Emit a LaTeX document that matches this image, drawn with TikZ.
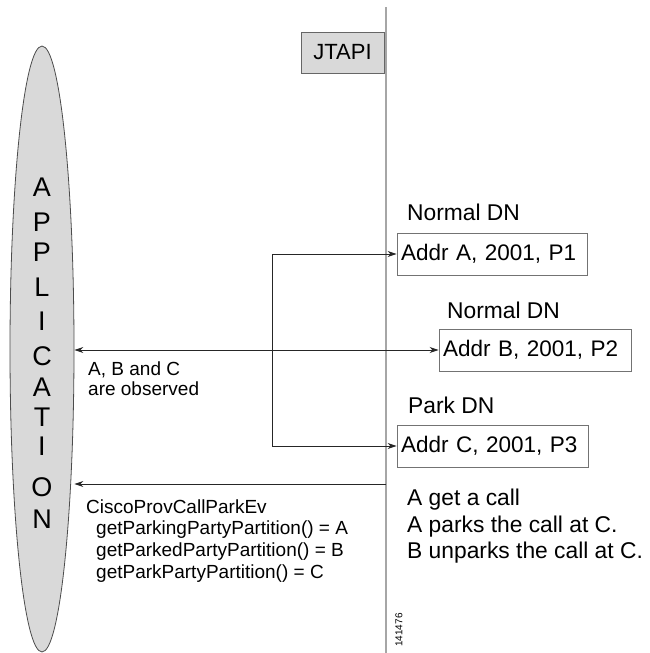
\documentclass[tikz,border=0pt]{standalone}
\usepackage{fontspec}
\setmainfont{Liberation Sans}
\usetikzlibrary{arrows.meta,shapes.geometric}
\begin{document}
\begin{tikzpicture}[x=1pt,y=-1pt,
  conn/.style={draw=black!85,line width=0.9pt},
  arr/.style={conn,-{Stealth[length=9pt,width=6pt]}},
  dblarr/.style={conn,{Stealth[length=9pt,width=6pt]}-{Stealth[length=9pt,width=6pt]}},
  addrbox/.style={draw=black!55,line width=0.9pt,fill=white,inner sep=0pt,minimum height=42pt,
     font=\fontsize{22.5}{26}\selectfont,align=left},
  lbl/.style={anchor=base west,inner sep=0pt,font=\fontsize{22.8}{26}\selectfont},
  small/.style={anchor=base west,inner sep=0pt,font=\fontsize{19}{22}\selectfont},
  letter/.style={inner sep=0pt,font=\fontsize{27}{30}\selectfont}]
\useasboundingbox (0,0) rectangle (649,653);
% JTAPI lifeline
\coordinate (ltop) at (386,7);
\coordinate (lbot) at (386,653);
\draw[draw=black!35,line width=1.6pt] (ltop) -- (lbot);
% JTAPI box
\node[draw=black!60,line width=1pt,fill=black!15,minimum width=83pt,minimum height=41pt,
  inner sep=0pt,font=\fontsize{22}{26}\selectfont] (jtapi) at (342.5,52.5) {JTAPI};
% application ellipse
\node[ellipse,draw=black!70,line width=0.8pt,fill=black!15,minimum width=64pt,minimum height=606pt,
  inner sep=0pt] (app) at (42,349) {};
\foreach \ch/\yy [count=\i] in {A/187,P/222,P/252,L/287,I/321,C/356,A/387,T/417,I/446,O/487,N/519}
  \node[letter] (ch\i) at (42,\yy) {\ch};
% address boxes
\node[addrbox,minimum width=190pt,text width=182pt] (A) at (492,254) {Addr A, 2001, P1};
\node[addrbox,minimum width=192pt,text width=184pt] (B) at (535,350) {Addr B, 2001, P2};
\node[addrbox,minimum width=191pt,text width=183pt] (C) at (492.5,446) {Addr C, 2001, P3};
\node[lbl] (nA) at (407,220) {Normal DN};
\node[lbl] (nB) at (447,318) {Normal DN};
\node[lbl] (nC) at (408,413) {Park DN};
% connectors
\coordinate (fork) at (272,350);
\draw[arr] (fork |- A.west) -- (A.west);
\draw[arr] (fork |- A.west) -- (fork |- C.west) -- (C.west);
\draw[dblarr] (app.east |- B.west) -- (B.west);
\coordinate (evstart) at (386,484);
\draw[arr] (evstart) -- (evstart -| app.east);
% left texts
\node[small] (obs1) at (88,375) {A, B and C};
\node[small] (obs2) at (88,395) {are observed};
\node[small] (ev0) at (86,513) {CiscoProvCallParkEv};
\node[small] (ev1) at (96,534) {getParkingPartyPartition() = A};
\node[small] (ev2) at (96,556) {getParkedPartyPartition() = B};
\node[small] (ev3) at (96,578) {getParkPartyPartition() = C};
% right texts
\node[lbl] (r1) at (407,505) {A get a call};
\node[lbl] (r2) at (407,532) {A parks the call at C.};
\node[lbl] (r3) at (407,558) {B unparks the call at C.};
% figure number
\node[rotate=90,inner sep=0pt,font=\fontsize{10}{12}\selectfont] (fig) at (399,630) {141476};
\end{tikzpicture}
\end{document}
